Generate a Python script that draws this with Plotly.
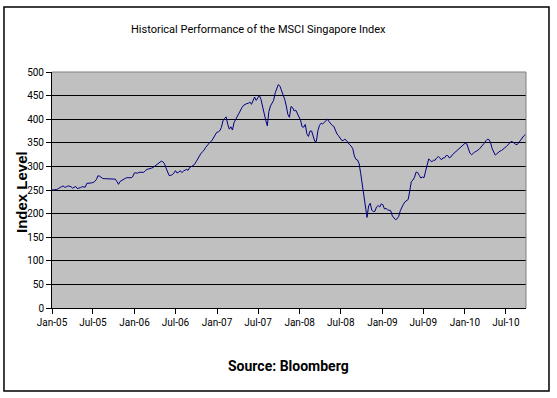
import pandas as pd
import plotly.graph_objects as go

# ---- data (weekly index levels) ----
start_date = "2005-01-01"
index_level = [
    250, 250, 250.5, 251, 253, 255.5, 257, 258.5, 256, 256.5,
    258.5, 258, 257, 254, 256, 257.5, 253, 253.5, 255, 257,
    257, 256, 264, 264, 264.5, 265, 266, 268, 272, 280,
    279.5, 277, 274.5, 274, 274, 274.5, 274.5, 274, 274, 273.5,
    273, 268, 262, 268, 270.5, 272, 274, 276, 275.5, 275,
    276, 278, 286, 286.5, 285.4, 287.5, 288, 287, 287.5, 291,
    293.8, 294.5, 295, 296.5, 298, 300.7, 303, 306, 310, 311,
    310, 306, 297, 288.3, 280.6, 281, 282.5, 286, 291, 286,
    287.5, 291, 286.8, 290, 292.4, 293.8, 291.7, 298, 299.5, 301,
    304, 309.7, 316.7, 322, 327, 331, 334, 340, 344.4, 348,
    352, 354.5, 360.4, 366, 372, 373, 375.5, 382.5, 396.5, 401.4,
    404.9, 389.5, 379, 383.9, 377, 393, 400, 407, 414, 417.5,
    424.5, 429.4, 431.5, 433, 433.6, 436.4, 431.5, 439.9, 446.9, 439.9,
    445.5, 450.4, 442, 426, 414, 398, 386, 416, 428, 433.6,
    440, 456, 466.4, 473.4, 470, 461, 451, 442, 428, 410,
    404, 427, 424.5, 417.5, 419, 412, 408, 398, 384, 383,
    388.8, 369.1, 363.5, 375, 375, 365.7, 353, 353, 376, 387,
    391.6, 390, 394, 396, 400, 395, 390.2, 386.7, 385, 374.8,
    369, 365, 358.6, 355.1, 355, 357.5, 355, 349.5, 346, 343,
    337.5, 322, 315, 313.5, 306, 285, 262, 237, 214.5, 192,
    216, 222, 207.5, 204, 205, 214, 217, 214, 220.5, 219,
    210, 211, 208, 207, 206, 195, 191.5, 187, 189, 194,
    206, 214, 220, 225, 227, 230, 248, 268, 271, 277,
    288, 287, 281, 275.4, 277.5, 276, 290, 304, 316, 312,
    310, 313, 313, 318, 321, 318, 314, 318, 318, 323,
    323, 318, 320, 325, 328, 331, 335, 337.5, 341, 344.4,
    347, 349.3, 347.9, 335, 328.2, 324.6, 328, 330.3, 332, 333.8,
    337, 341, 344.5, 349, 354, 357.5, 357, 351, 338, 332,
    324, 326.8, 330.3, 332.4, 333.8, 337.3, 339.4, 342, 346.5, 349.3,
    353, 352, 348.5, 346.5, 346.5, 351, 357, 361, 364.5, 367.6,
]
dates = pd.date_range(start_date, periods=len(index_level), freq="7D")

tick_dates = ["2005-01-01", "2005-07-01", "2006-01-01", "2006-07-01",
              "2007-01-01", "2007-07-01", "2008-01-01", "2008-07-01",
              "2009-01-01", "2009-07-01", "2010-01-01", "2010-07-01"]
tick_labels = ["Jan-05", "Jul-05", "Jan-06", "Jul-06", "Jan-07", "Jul-07",
               "Jan-08", "Jul-08", "Jan-09", "Jul-09", "Jan-10", "Jul-10"]
y_ticks = [0, 50, 100, 150, 200, 250, 300, 350, 400, 450, 500]

title_text = "Historical Performance of the MSCI Singapore Index"
y_title = "Index Level"
x_title = "Source: Bloomberg"

NARROW = "Roboto, Liberation Sans, sans-serif"
WIDE = "Liberation Sans, Arial, sans-serif"

fig = go.Figure()
fig.add_trace(go.Scatter(
    x=dates, y=index_level, mode="lines",
    line=dict(color="#000080", width=1),
    showlegend=False, hoverinfo="x+y",
))

fig.update_layout(
    width=557, height=398,
    margin=dict(l=52, r=31, t=72, b=90, autoexpand=False),
    paper_bgcolor="white",
    plot_bgcolor="#C0C0C0",
    showlegend=False,
    xaxis=dict(
        type="date",
        range=["2005-01-01", "2010-09-28"],
        tickmode="array", tickvals=tick_dates, ticktext=tick_labels,
        showgrid=False, zeroline=False,
        showline=True, linecolor="black", linewidth=1,
        ticks="outside", ticklen=5, tickcolor="black", tickwidth=1,
        tickfont=dict(family=NARROW, size=10, color="black"),
    ),
    yaxis=dict(
        range=[0, 500],
        tickmode="array", tickvals=y_ticks,
        showgrid=True, gridcolor="black", gridwidth=1,
        zeroline=False,
        showline=True, linecolor="black", linewidth=1,
        ticks="outside", ticklen=5, tickcolor="black", tickwidth=1,
        tickfont=dict(family=NARROW, size=10, color="black"),
    ),
    shapes=[
        # plot-area border top & right (gray)
        dict(type="line", xref="paper", yref="paper", x0=0, x1=1, y0=1, y1=1,
             line=dict(color="#808080", width=1), layer="above"),
        dict(type="line", xref="paper", yref="paper", x0=1, x1=1, y0=0, y1=1,
             line=dict(color="#808080", width=1), layer="above"),
        # outer chart border
        dict(type="rect", xref="paper", yref="paper",
             x0=-0.1013, x1=1.0485, y0=-0.3517, y1=1.2754,
             line=dict(color="black", width=1.5), layer="above"),
    ],
    annotations=[
        dict(text=title_text, xref="paper", yref="paper", x=0.4367, y=1.178,
             xanchor="center", yanchor="middle", showarrow=False,
             font=dict(family=NARROW, size=11, color="black")),
        dict(text="<b>" + y_title + "</b>", xref="paper", yref="paper",
             x=-0.064, y=0.49, textangle=-90,
             xanchor="center", yanchor="middle", showarrow=False,
             font=dict(family=WIDE, size=15, color="black")),
        dict(text="<b>" + x_title + "</b>", xref="paper", yref="paper",
             x=0.4979, y=-0.2458,
             xanchor="center", yanchor="middle", showarrow=False,
             font=dict(family=NARROW, size=14, color="black")),
    ],
)

fig.write_html("out.html", config={"displayModeBar": False},
               post_script="document.body.style.margin='0';")
